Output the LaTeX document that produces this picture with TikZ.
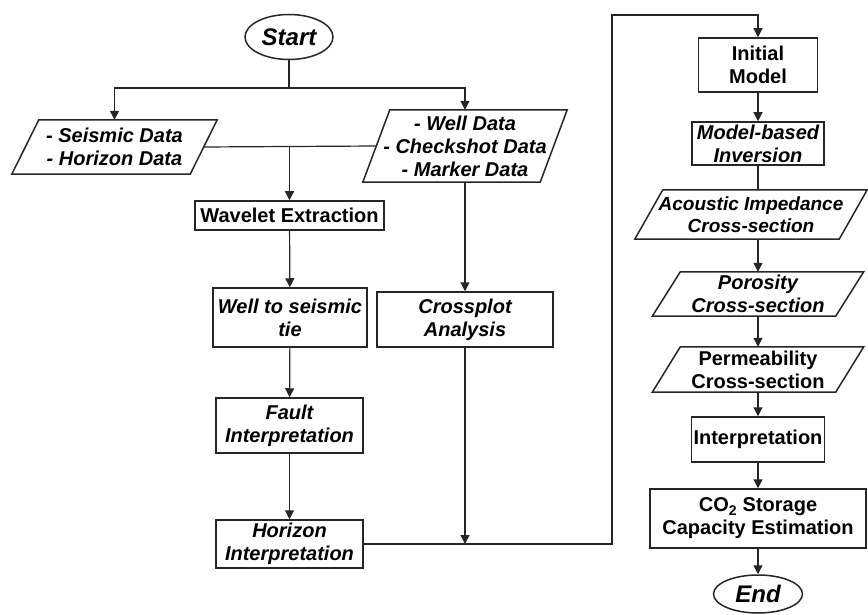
\documentclass[tikz,border=0pt]{standalone}
\usepackage{fontspec}
\setmainfont{Liberation Sans}
\usetikzlibrary{arrows.meta,shapes.geometric}
\newcommand{\slantbox}[2]{%
  \draw[outl] ([xshift=#2]#1.north west) -- ([xshift=#2]#1.north east)
    -- ([xshift=-#2]#1.south east) -- ([xshift=-#2]#1.south west) -- cycle;}

\begin{document}
\begin{tikzpicture}[
  x=1pt, y=-1pt,
  font=\fontsize{20}{23}\selectfont\bfseries,
  outl/.style={draw=black!85,line width=1.5pt},
  proc/.style={outl,rectangle,align=center,inner sep=1pt},
  term/.style={outl,ellipse,inner sep=0pt,font=\fontsize{24}{28}\selectfont\bfseries\itshape},
  io/.style={align=center,inner sep=1pt},
  it/.style={font=\fontsize{20}{23}\selectfont\bfseries\itshape},
  >={Triangle[length=9pt,width=9pt]},
  ln/.style={draw=black!85,line width=1.2pt},
  ed/.style={ln,->}
]
\useasboundingbox (0,0) rectangle (868,615);

% ---------------- left part: data and well tie ----------------
\node[term,minimum width=88pt,minimum height=45pt] (start) at (289,37) {Start};
\node[io,it,minimum width=178pt,minimum height=54pt] (seis) at (114.5,147) {- Seismic Data\\- Horizon Data};
\slantbox{seis}{13.5pt}
\node[io,it,minimum width=177pt,minimum height=72pt] (well) at (465,146) {- Well Data\\- Checkshot Data\\- Marker Data};
\slantbox{well}{13.5pt}
\node[proc,minimum width=189pt,minimum height=29pt] (wave) at (289.5,215.5) {Wavelet Extraction};
\node[proc,it,minimum width=154pt,minimum height=59pt] (tie) at (290,317.5) {Well to seismic\\tie};
\node[proc,it,minimum width=147pt,minimum height=55pt] (fault) at (289.5,425.5) {Fault\\Interpretation};
\node[proc,it,minimum width=147pt,minimum height=48pt] (hor) at (289.5,544) {Horizon\\Interpretation};
\node[proc,it,minimum width=176pt,minimum height=55pt] (cross) at (465,319.5) {Crossplot\\Analysis};

\coordinate (split) at (289,88);
\draw[ln] (start) -- (split);
\draw[ed] (split) -| (seis.north);
\draw[ed] (split) -| (well.north);
\draw[ln] (seis.east) -- (well.west);
\draw[ed] (wave.north |- seis.east) -- (wave.north);
\draw[ed] (wave) -- (tie);
\draw[ed] (tie) -- (fault);
\draw[ed] (fault) -- (hor);
\draw[ed] (well.south) -- (cross.north);
\draw[ed] (cross.south) -- (cross.south |- hor.east);

% ---------------- right part: inversion and storage ----------------
\node[proc,minimum width=119pt,minimum height=54pt] (init) at (758,65) {Initial\\Model};
\node[proc,it,minimum width=132pt,minimum height=43pt] (mbi) at (758,143.5) {Model-based\\Inversion};
\node[io,font=\fontsize{19}{22}\selectfont\bfseries\itshape,minimum width=204pt,minimum height=49pt] (ai) at (751,214.5) {Acoustic Impedance\\Cross-section};
\slantbox{ai}{14pt}
\node[io,it,minimum width=183pt,minimum height=44pt] (por) at (758,294) {Porosity\\Cross-section};
\slantbox{por}{14pt}
\node[io,minimum width=183pt,minimum height=45pt] (perm) at (758,369.5) {Permeability\\Cross-section};
\slantbox{perm}{14pt}
\node[proc,minimum width=133pt,minimum height=45pt] (interp) at (758,439.5) {Interpretation};
\node[proc,minimum width=216pt,minimum height=59pt] (co2) at (758,518.5) {CO\textsubscript{2} Storage\\Capacity Estimation};
\node[term,minimum width=89pt,minimum height=38pt] (end) at (758,594) {End};

\coordinate (top) at (612,15);
\draw[ed] (hor.east) -| (top) -| (init.north);
\draw[ed] (init) -- (mbi);
\draw[ln] (mbi.south) -- (mbi.south |- ai.north);
\draw[ed] (por.north |- ai.south) -- (por.north);
\draw[ed] (por) -- (perm);
\draw[ed] (perm) -- (interp);
\draw[ed] (interp) -- (co2);
\draw[ed] (co2) -- (end);
\end{tikzpicture}
\end{document}
